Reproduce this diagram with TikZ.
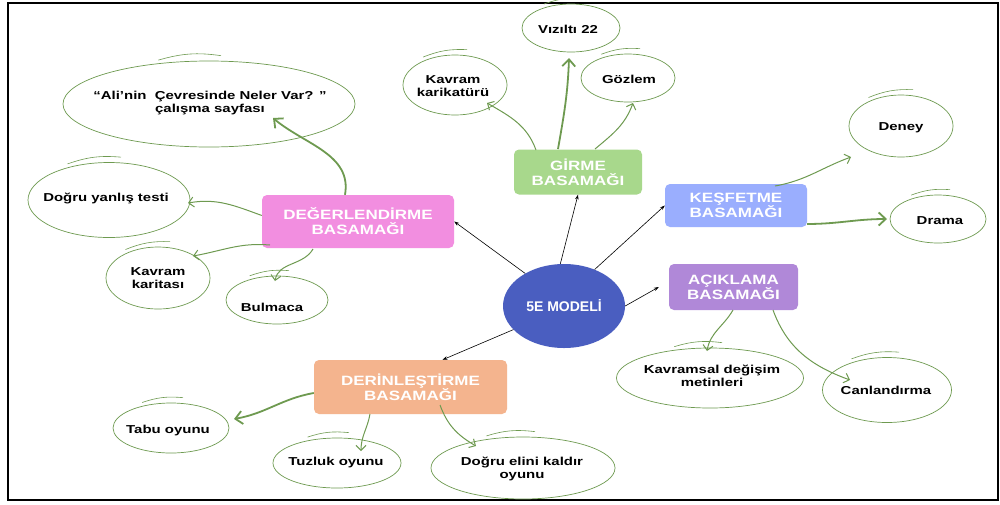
\documentclass[tikz,border=0pt]{standalone}
\usepackage{fontspec}
\setmainfont{Liberation Sans}
\newfontfamily\widefont{Liberation Sans}[FakeStretch=1.26]
\newfontfamily\ideafont{Liberation Sans}[FakeStretch=1.3]
\usetikzlibrary{arrows.meta,shapes.geometric,calc}
\definecolor{gline}{HTML}{6E9A50}
\definecolor{cblue}{HTML}{4A5EC0}
\definecolor{cgreen}{HTML}{A8D88C}
\definecolor{ckesf}{HTML}{9AAEFE}
\definecolor{cpurp}{HTML}{B088D8}
\definecolor{corange}{HTML}{F4B48E}
\definecolor{cpink}{HTML}{F28EE0}
\tikzset{
  stage/.style={rectangle, rounded corners=5pt, draw=none, text=white, font=\widefont\bfseries\fontsize{13.5}{15}\selectfont, align=center, inner sep=0pt},
  idea/.style={ellipse, draw=gline, line width=0.7pt, inner sep=0pt},
  ideatext/.style={font=\ideafont\bfseries\fontsize{11.5}{13.5}\selectfont, align=center, inner sep=0pt},
  blk/.style={-{Stealth[length=5pt,width=3.5pt]}, line width=0.6pt, black},
  gar/.style={-{Straight Barb[length=5pt,width=10pt]}, gline, line width=1pt},
  garthick/.style={-{Straight Barb[length=7pt,width=13pt]}, gline, line width=1.8pt},
  skline/.style={gline, line width=0.6pt}
}
\newcommand{\idea}[7]{%
  \node[idea, minimum width=#4pt, minimum height=#5pt] (#1) at (#2,#3) {};
  \node[ideatext] (#1t) at (#6) {#7};
  \draw[skline] ([xshift=-2pt,yshift=3pt]#1.140) to[bend left=12] ([xshift=12pt,yshift=5pt]#1.north);
}
\begin{document}
\begin{tikzpicture}[x=1pt,y=-1pt]
\useasboundingbox (0,0) rectangle (1000,504);
\fill[white] (0,0) rectangle (1000,504);
\draw[line width=2.5pt, black] (8,3) rectangle (998,500);

% central
\node[ellipse, fill=cblue, minimum width=122pt, minimum height=84pt, text=white, font=\bfseries\fontsize{14}{16}\selectfont, inner sep=0pt] (c) at (564,306) {5E MODELİ};

% stages
\node[stage, fill=cgreen, minimum width=128pt, minimum height=45pt] (gir) at (578,172) {GİRME\\BASAMAĞI};
\node[stage, fill=ckesf, minimum width=142pt, minimum height=43pt] (kes) at (736,205.5) {KEŞFETME\\BASAMAĞI};
\node[stage, fill=cpurp, minimum width=129pt, minimum height=46pt] (aci) at (733.5,287) {AÇIKLAMA\\BASAMAĞI};
\node[stage, fill=corange, minimum width=193pt, minimum height=54pt] (der) at (410.5,387) {DERİNLEŞTİRME\\BASAMAĞI};
\node[stage, fill=cpink, minimum width=192pt, minimum height=53pt] (deg) at (358,221.5) {DEĞERLENDİRME\\BASAMAĞI};

% ideas
\idea{ali}{209}{104}{292}{86}{210,103}{“Ali’nin\ \ Çevresinde Neler Var? ”\\çalışma sayfası}
\idea{dyt}{109}{200}{162}{75}{106,198}{Doğru yanlış testi}
\idea{kk}{158}{278}{104}{62}{158,278}{Kavram\\karitası}
\idea{bul}{277}{300}{102}{48}{272,307}{Bulmaca}
\idea{tabu}{171}{428}{116}{50}{168,431}{Tabu oyunu}
\idea{tuz}{337}{463}{128}{50}{336,463}{Tuzluk oyunu}
\idea{dek}{523}{468}{184}{62}{522,469}{Doğru elini kaldır\\oyunu}
\idea{kdm}{710}{378}{187}{60}{712,376}{Kavramsal değişim\\metinleri}
\idea{can}{887}{390}{129}{65}{886,390}{Canlandırma}
\idea{den}{901}{126}{104}{62}{901,128}{Deney}
\idea{dra}{938}{219}{96}{48}{940,221}{Drama}
\idea{goz}{628}{78}{94}{48}{629,79}{Gözlem}
\idea{viz}{571}{28}{98}{48}{568,29}{Vızıltı 22}
\idea{kar}{455}{85}{104}{60}{453,86}{Kavram\\karikatürü}

% black connectors
\draw[blk] (c.95) -- (gir.south);
\draw[blk] (c.50) -- (kes.west);
\draw[blk] (c.east) -- ([xshift=-10pt]aci.west);
\draw[blk] (c.140) -- (deg.east);
\draw[blk] (c.205) -- ([xshift=32pt]der.north);

% green connectors
\draw[garthick] ([xshift=-13pt]deg.north) to[out=80, in=-40] (273,118);
\draw[gar] (deg.west) ++(0,-6) to[out=160, in=10] (188,203);
\draw[gar] (270,245) to[out=175, in=10] (193,256);
\draw[gar] (313,249) to[out=240, in=80] (275,281);
\draw[gar] (536,150) to[out=110, in=-30] (487,103);
\draw[garthick] (558,149) to[out=80, in=-92] (569,58);
\draw[gar] (595,149) to[out=40, in=-110] (633,103);
\draw[gar] (775,186) to[out=10, in=200] (851,157);
\draw[garthick] (807,224) to[out=0, in=180] (887,219);
\draw[gar] (733,310) to[out=240, in=80] (707,351);
\draw[gar] (773,310) to[out=290, in=160] (850,380);
\draw[garthick] (der.west) ++(0,6) to[out=190, in=10] (234,419);
\draw[gar] (370,414) to[out=260, in=90] (361,451);
\draw[gar] (440,405) to[out=290, in=150] (476,446);
\end{tikzpicture}
\end{document}
